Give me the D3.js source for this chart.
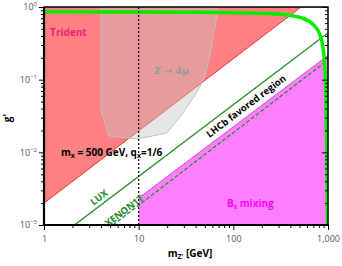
<!DOCTYPE html>
<html><head><meta charset="utf-8">
<script src="https://cdn.jsdelivr.net/npm/d3@7/dist/d3.min.js"></script>
<style>body{margin:0;background:#fff}svg{display:block;font-family:"Open Sans",sans-serif}</style>
</head><body><svg id="c" width="342" height="266"></svg>
<script>
// ---- data (m in GeV, g') ----
const xTicks = [1, 10, 100, 1000];
const xTickLabels = ["1", "10", "100", "1,000"];
const yTicks = [1e-3, 1e-2, 1e-1, 1];
const yTickExp = ["−3", "−2", "−1", "0"];
const tridentEdge = [[1, 0.002], [520, 1]];
const z4muBoundary = [[4.0,1],[4.0,0.0371],[4.86,0.0168],[9.84,0.0153],[19.9,0.0185],[29.4,0.0348],[39.4,0.0615],[45.5,0.0845],[50.2,0.116],[56.7,0.219],[61,0.374],[67.2,0.776],[68.9,1]];
const luxLine = [[2.1, 0.001], [1000, 0.44]];
const xenonLine = [[5.35, 0.001], [1000, 0.187]];
const bsEdge = [[10, 0.00235], [1000, 0.215]];
const massCurve = [[1,0.86],[50,0.85],[150,0.825],[330,0.79],[540,0.70],[730,0.54],[835,0.39],[890,0.26],[925,0.15],[950,0.053],[970,0.011],[985,0.001]];
const mx = 10;

const svg = d3.select("#c");
const L = 44, R = 328, T = 7, B = 225;
const x = d3.scaleLog().domain([1, 1000]).range([L, R]);
const y = d3.scaleLog().domain([1e-3, 1]).range([B, T]);
const line = d3.line().x(d => x(d[0])).y(d => y(d[1]));

svg.append("defs").append("clipPath").attr("id", "clip")
  .append("rect").attr("x", L).attr("y", T).attr("width", R - L).attr("height", B - T);
const g = svg.append("g").attr("clip-path", "url(#clip)");

// Trident
const tri = [[1, 1], tridentEdge[0], tridentEdge[1]];
g.append("path").attr("d", line(tri) + "Z").attr("fill", "#ff8080");
g.append("path").attr("d", line([tridentEdge[0], tridentEdge[1], [1000, 1]])).attr("fill", "none").attr("stroke", "#ff3030").attr("stroke-width", 1);
// Z -> 4mu
g.append("path").attr("d", line(z4muBoundary) + "Z").attr("fill", "#c4c4c4").attr("fill-opacity", 0.42)
  .attr("stroke", "#c0c0c0").attr("stroke-width", 1);
// Bs mixing
const bs = [bsEdge[0], bsEdge[1], [1000, 1e-3], [10, 1e-3]];
g.append("path").attr("d", line(bs) + "Z").attr("fill", "#ff80ff");
g.append("path").attr("d", line(bsEdge)).attr("fill", "none").attr("stroke", "#e040e0").attr("stroke-width", 1);
// LUX, XENON1T
g.append("path").attr("d", line(luxLine)).attr("fill", "none").attr("stroke", "#1f8a1f").attr("stroke-width", 1.3);
g.append("path").attr("d", line(xenonLine)).attr("fill", "none").attr("stroke", "#2a8a2a").attr("stroke-width", 1.3).attr("stroke-dasharray", "4,2");
// mass curve
g.append("path").attr("d", d3.line().x(d => x(d[0])).y(d => y(d[1])).curve(d3.curveMonotoneY)(massCurve.slice().reverse()))
  .attr("fill", "none").attr("stroke", "#00ee00").attr("stroke-width", 3.5);
// dotted line m = 10
g.append("line").attr("x1", x(mx)).attr("x2", x(mx)).attr("y1", T).attr("y2", B)
  .attr("stroke", "#000").attr("stroke-width", 1.2).attr("stroke-dasharray", "2,2");

// labels
function t(m, gv, txt, opts) {
  const el = svg.append("text").attr("x", x(m)).attr("y", y(gv)).text(txt)
    .attr("font-size", opts.size || 10).attr("font-weight", "bold").attr("fill", opts.fill || "#000")
    .attr("text-anchor", opts.anchor || "start");
  if (opts.family) el.attr("font-family", opts.family);
  if (opts.rot) el.attr("transform", `rotate(${opts.rot},${x(m)},${y(gv)})`).attr("dominant-baseline", "central");
  return el;
}
t(1.16, 0.40, "Trident", {fill: "#f0207a"});
t(14.5, 0.12, "Z → 4μ", {fill: "#999", family: "DejaVu Sans", size: 9.5});
t(136, 0.0434, "LHCb favored region", {rot: -37, anchor: "middle", size: 9.5});
t(3.8, 0.0024, "LUX", {rot: -37, anchor: "middle", fill: "#1f8a1f", size: 9.5});
t(7.0, 0.00158, "XENON1T", {rot: -37, anchor: "middle", fill: "#1f8a1f", size: 9.5});
const mt = svg.append("text").attr("x", x(1.51)).attr("y", y(0.0089)).attr("font-size", 10).attr("font-weight", "bold");
mt.append("tspan").text("m");
mt.append("tspan").text("x").attr("font-size", 7).attr("dy", 2);
mt.append("tspan").text(" = 500 GeV, q").attr("dy", -2);
mt.append("tspan").text("x").attr("font-size", 7).attr("dy", 2);
mt.append("tspan").text("=1/6").attr("dy", -2);
const bt = svg.append("text").attr("x", x(85.7)).attr("y", y(0.00177)).attr("font-size", 10).attr("font-weight", "bold").attr("fill", "#ff00ff");
bt.append("tspan").text("B");
bt.append("tspan").text("s").attr("font-size", 7).attr("dy", 2);
bt.append("tspan").text(" mixing").attr("dy", -2);

// axes
const xMinor = d3.range(0, 3).flatMap(e => d3.range(2, 10).map(k => k * Math.pow(10, e)));
const yMinor = d3.range(-3, 0).flatMap(e => d3.range(2, 10).map(k => k * Math.pow(10, e)));
const noDomain = s => s.select(".domain").remove();
svg.append("g").attr("transform", `translate(0,${B})`).call(d3.axisBottom(x).tickValues(xMinor).tickSize(3).tickFormat("")).call(noDomain);
svg.append("g").attr("transform", `translate(0,${B})`).call(d3.axisBottom(x).tickValues(xTicks).tickSize(5).tickFormat((d, i) => xTickLabels[i]))
  .call(noDomain)
  .call(s => s.selectAll("text").attr("fill", "#555").attr("font-size", 9).attr("font-family", "Open Sans").attr("dy", "1em"));
svg.append("g").attr("transform", `translate(${L},0)`).call(d3.axisLeft(y).tickValues(yMinor).tickSize(3).tickFormat("")).call(noDomain);
const yl = svg.append("g").attr("transform", `translate(${L},0)`).call(d3.axisLeft(y).tickValues(yTicks).tickSize(5).tickFormat("")).call(noDomain);
yl.selectAll(".tick").each(function(d, i) {
  const tx = d3.select(this).append("text").attr("x", -7).attr("dy", "0.32em").attr("text-anchor", "end")
    .attr("fill", "#555").attr("font-size", 9).attr("font-family", "Open Sans");
  tx.append("tspan").text("10");
  tx.append("tspan").text(yTickExp[i]).attr("font-size", 6).attr("dy", "-0.7em");
});
svg.append("g").attr("transform", `translate(${R},0)`).call(d3.axisRight(y).tickValues(yTicks).tickSize(-6).tickFormat("")).call(noDomain);
svg.append("g").attr("transform", `translate(${R},0)`).call(d3.axisRight(y).tickValues(yMinor).tickSize(-3).tickFormat("")).call(noDomain);
svg.selectAll(".tick line").attr("stroke", "#000");
// frame
svg.append("rect").attr("x", L).attr("y", T).attr("width", R - L).attr("height", B - T)
  .attr("fill", "none").attr("stroke", "#000").attr("stroke-width", 1.5);
svg.append("line").attr("x1", L).attr("x2", L).attr("y1", T).attr("y2", B + 1).attr("stroke", "#000").attr("stroke-width", 2.2);
svg.append("line").attr("x1", L - 1).attr("x2", R + 1).attr("y1", B).attr("y2", B).attr("stroke", "#000").attr("stroke-width", 2.2);

// axis titles
svg.append("text").attr("transform", "translate(11,118) rotate(-90)").attr("text-anchor", "middle")
  .attr("font-size", 10).attr("font-weight", "bold").text("g'");
const xt = svg.append("text").attr("x", 190).attr("y", 257).attr("text-anchor", "middle").attr("font-size", 10).attr("font-weight", "bold");
xt.append("tspan").text("m");
xt.append("tspan").text("Z'").attr("font-size", 7).attr("dy", 2);
xt.append("tspan").text(" [GeV]").attr("dy", -2);
</script></body></html>
